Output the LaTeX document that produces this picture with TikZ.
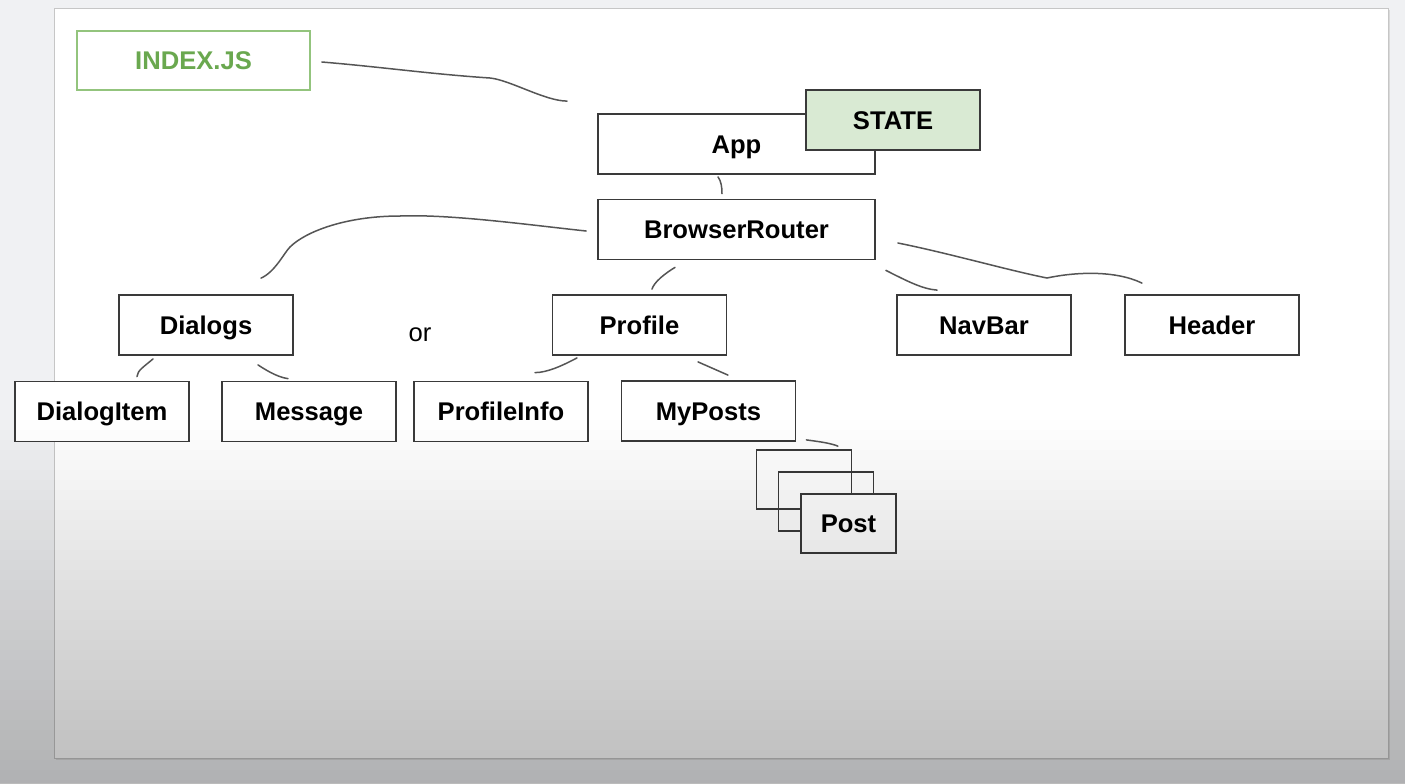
\documentclass[tikz,border=0pt]{standalone}
\usepackage{fontspec}
\setmainfont{Liberation Sans}
\definecolor{slideback}{HTML}{F0F1F3}
\definecolor{slideframe}{HTML}{C6C6C6}
\definecolor{indexgreen}{HTML}{6AA84F}
\definecolor{indexframe}{HTML}{93C47D}
\definecolor{statefill}{HTML}{D9EAD3}
\definecolor{frame}{HTML}{3A3A3A}
\definecolor{wiregray}{HTML}{555555}
\tikzset{
    x=0.5pt,
    y=-0.5pt,
    block/.style = {
        draw=frame,
        fill=white,
        shape=rectangle,
        minimum width=87pt,
        minimum height=30pt,
        inner sep=0pt,
        text height=9.2pt,
        text depth=0pt,
        line width=0.9pt,
        font=\fontsize{12.8}{15}\selectfont\bfseries
    },
    widebox/.style = {
        block,
        minimum width=138.5pt
    },
    postbox/.style = {
        block,
        fill=none,
        minimum width=47.5pt,
        minimum height=29.5pt
    },
    entrybox/.style = {
        block,
        draw=indexframe,
        text=indexgreen,
        minimum width=116.5pt,
        minimum height=29.5pt
    },
    statebox/.style = {
        block,
        fill=statefill
    },
    wire/.style = {
        draw=wiregray,
        line width=0.75pt,
        line cap=round
    },
}

\begin{document}
\begin{tikzpicture}
                \useasboundingbox (0,0) rectangle (1405,783);
                \fill[slideback] (0,0) rectangle (1405,783);
                \fill[gray!30] (56,10) rectangle (1390,760);
                \path[draw=slideframe, fill=white] (54,8) rectangle (1388,758);

                \node[entrybox] (index) at (193.5,60.5) {INDEX.JS};
                \node[widebox] (app) at (736.5,144) {App};
                \node[statebox] (state) at (893,120) {STATE};
                \node[widebox] (router) at (736.5,229.5) {BrowserRouter};
                \node[block] (dialogs) at (206,325) {Dialogs};
                \node[block] (profile) at (639.5,325) {Profile};
                \node[block] (navbar) at (984,325) {NavBar};
                \node[block] (header) at (1212,325) {Header};
                \node[block] (dialogitem) at (102,411.5) {DialogItem};
                \node[block] (message) at (309,411.5) {Message};
                \node[block] (profileinfo) at (501,411.5) {ProfileInfo};
                \node[block] (myposts) at (708.5,411) {MyPosts};
                \node[postbox] (postA) at (804,479.5) {};
                \node[postbox] (postB) at (826,501.5) {};
                \node[postbox, fill=white] (postC) at (848.5,523.5) {Post};
                \node[font=\fontsize{12.8}{15}\selectfont] (alt) at (420,335) {or};

                % hand drawn links
                \path[wire] ([shift={(11,1.5)}]index.east) .. controls +(60,5) and +(-60,-4) .. (490,78)
                    .. controls (510,80) and (545,101) .. ([shift={(-30,-12)}]app.north west);
                \path[wire] ([shift={(-18.5,2)}]app.south) .. controls +(3,4) and +(0,-7) .. ([shift={(-14.5,-5)}]router.north);
                \path[wire] ([shift={(-11,1.5)}]router.west) .. controls (530,225) and (450,214) .. (400,216)
                    .. controls (345,216) and (305,232) .. (290,247)
                    .. controls (284,253) and (275,272) .. ([shift={(55,-16)}]dialogs.north);
                \path[wire] ([shift={(-61.5,7)}]router.south) .. controls +(-10,6) and +(2,-7) .. ([shift={(12.5,-5)}]profile.north);
                \path[wire] ([shift={(10,10)}]router.south east) .. controls +(20,10) and +(-15,-1) .. ([shift={(41,-4)}]navbar.north west);
                \path[wire] ([shift={(22,13.5)}]router.east) .. controls +(50,10) and +(-40,-8) .. (1047,278)
                    .. controls (1075,272) and (1115,270) .. ([shift={(-70,-11)}]header.north);
                \path[wire] ([shift={(-53,3)}]dialogs.south) .. controls +(-8,7) and +(0,-6) .. ([shift={(35,-4)}]dialogitem.north);
                \path[wire] ([shift={(52,9)}]dialogs.south) .. controls +(12,8) and +(-8,-1) .. ([shift={(-21,-2)}]message.north);
                \path[wire] ([shift={(-62.5,2)}]profile.south) .. controls +(-15,8) and +(12,0) .. ([shift={(34,-8)}]profileinfo.north);
                \path[wire] ([shift={(58.5,6)}]profile.south) -- ([shift={(19.5,-5)}]myposts.north);
                \path[wire] ([shift={(10,-2)}]myposts.south east) .. controls +(15,2) and +(-8,-3) .. ([shift={(-14.5,-3)}]postA.north east);

                % grey screen fade, in strips
                \foreach \i in {0,...,36}
                    \fill[black, fill opacity={0.27*(\i+0.5)/37}] (0,{420+\i*10}) rectangle (1405,{430+\i*10});
            \end{tikzpicture}
\end{document}
